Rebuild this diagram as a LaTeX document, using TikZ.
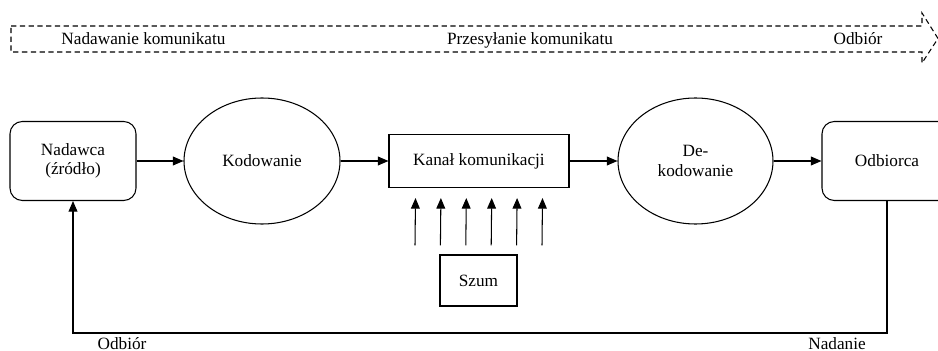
\documentclass[tikz,border=0pt]{standalone}
\usepackage{fontspec}
\setmainfont{Liberation Serif}
\usetikzlibrary{arrows.meta,calc,shapes.geometric}

\tikzstyle{block} = [rectangle, draw, text centered, minimum height=1.06cm]
\tikzstyle{rblock} = [rectangle, draw, rounded corners=7pt, align=center, minimum height=1.58cm]
\tikzstyle{oval} = [ellipse, draw, align=center, inner sep=0pt, minimum width=3.12cm, minimum height=2.52cm]
\tikzstyle{arrow} = [draw, -{Triangle[length=6pt,width=5pt]}]

\begin{document}
\begin{tikzpicture}[line width=0.6pt, font=\fontsize{9.8}{11}\selectfont]
\useasboundingbox (0,0) rectangle (18.76,-7.02);

% pasek u gory
\draw[dashed, dash pattern=on 3pt off 2pt] (0.22,-0.52) -- (18.44,-0.52) -- (18.44,-0.26)
  -- (18.76,-0.77) -- (18.44,-1.26) -- (18.44,-1.04) -- (0.22,-1.04) -- cycle;
\node[anchor=base](nadawanie) at (2.87,-0.9) {Nadawanie komunikatu};
\node[anchor=base](przesylanie) at (10.6,-0.9) {Przesyłanie komunikatu};
\node[anchor=base](odbior_top) at (17.16,-0.9) {Odbiór};

\node[rblock, minimum width=2.52cm](nadawca) at (1.46,-3.22) {Nadawca\\(źródło)};
\node[oval](kodowanie) at (5.24,-3.22) {Kodowanie};
\node[block, minimum width=3.6cm](kanal) at (9.58,-3.22) {Kanał komunikacji};
\node[block, minimum width=1.54cm, minimum height=1.02cm](szum) at (9.57,-5.61) {Szum};
\node[oval, minimum width=3.1cm](dekodowanie) at (13.91,-3.22) {De-\\kodowanie};
\node[rblock, minimum width=2.6cm](odbiorca) at (17.74,-3.22) {Odbiorca};

\node[anchor=base](odbior) at (2.44,-6.98) {Odbiór};
\node[anchor=base](nadanie) at (16.74,-6.98) {Nadanie};

\path[arrow] (nadawca)--(kodowanie);
\path[arrow] (kodowanie)--(kanal);
\path[arrow] (kanal)--(dekodowanie);
\path[arrow] (dekodowanie)--(odbiorca);

\foreach \x in {-1.27,-0.762,-0.254,0.254,0.762,1.27}
  \path[arrow] ($(szum.north)+(\x,0.18)$)--($(kanal.south)+(\x,-0.2)$);

\path[arrow] (odbiorca.south)--(odbiorca.south |- 0,-6.66) -| (nadawca.south);
\end{tikzpicture}
\end{document}
